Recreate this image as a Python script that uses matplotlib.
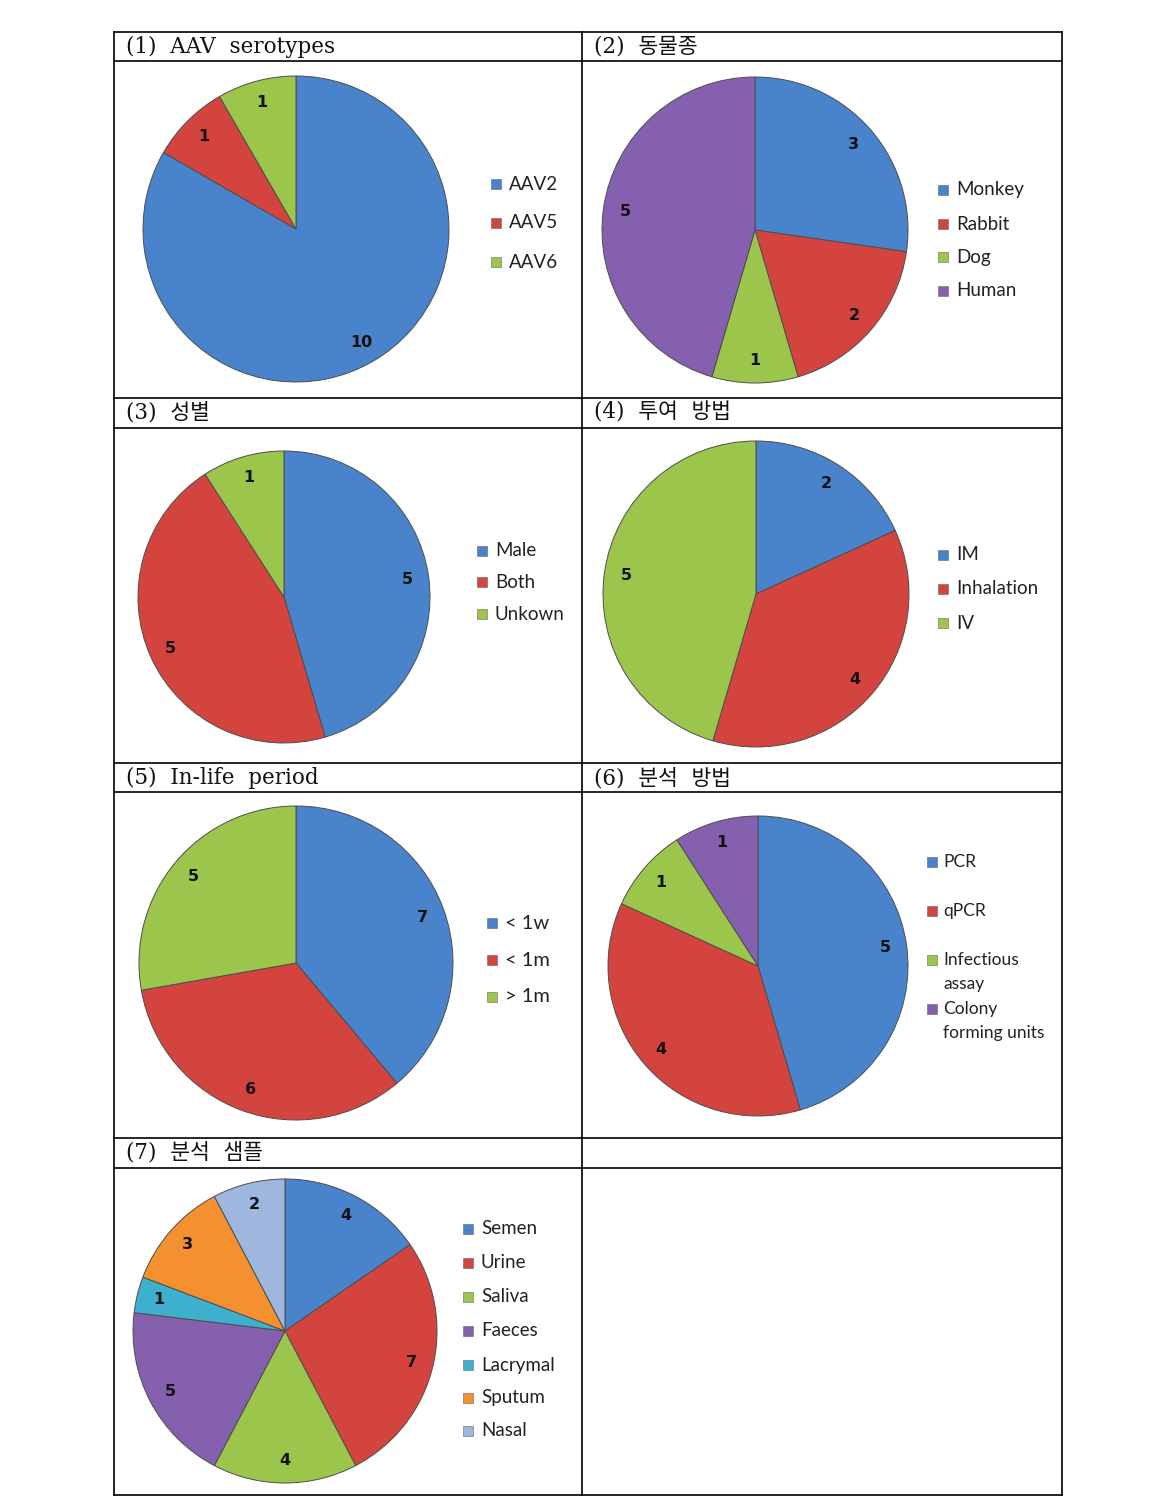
import matplotlib
matplotlib.use("Agg")
import matplotlib.pyplot as plt
from matplotlib.patches import Rectangle
from matplotlib.lines import Line2D

# ---------------- data ----------------
titles = ["(1) AAV serotypes", "(2) 동물종", "(3) 성별", "(4) 투여 방법",
          "(5) In-life period", "(6) 분석 방법", "(7) 분석 샘플"]

aav_labels = ["AAV2", "AAV5", "AAV6"]
aav_values = [10, 1, 1]

species_labels = ["Monkey", "Rabbit", "Dog", "Human"]
species_values = [3, 2, 1, 5]

sex_labels = ["Male", "Both", "Unkown"]
sex_values = [5, 5, 1]

route_labels = ["IM", "Inhalation", "IV"]
route_values = [2, 4, 5]

period_labels = ["< 1w", "< 1m", "> 1m"]
period_values = [7, 6, 5]

method_labels = ["PCR", "qPCR", "Infectious\nassay", "Colony\nforming units"]
method_values = [5, 4, 1, 1]

sample_labels = ["Semen", "Urine", "Saliva", "Faeces", "Lacrymal", "Sputum", "Nasal"]
sample_values = [4, 7, 4, 5, 1, 3, 2]

# ---------------- style ----------------
palette = ["#4883cc", "#d4443f", "#9cc64b", "#8560ae", "#3cb0cc", "#f4902f", "#9db7df"]

W, H = 1153, 1509
fig = plt.figure(figsize=(W / 100, H / 100), dpi=100)
fig.patch.set_facecolor("white")


def fx(x):
    return x / W


def fy(y):
    return 1 - y / H


# ---------------- table grid ----------------
line_kw = dict(color="black", linewidth=1.2, transform=fig.transFigure)
for y in [32, 61, 398, 428, 763, 792, 1138, 1168, 1495]:
    fig.add_artist(Line2D([fx(114), fx(1062)], [fy(y), fy(y)], **line_kw))
for x in [114, 582, 1062]:
    fig.add_artist(Line2D([fx(x), fx(x)], [fy(32), fy(1495)], **line_kw))

# header texts
header_pos = [(126, 47), (594, 47), (126, 413), (594, 413),
              (126, 778), (594, 778), (126, 1153)]
for t, (x, y) in zip(titles, header_pos):
    fig.text(fx(x), fy(y), t.replace(" ", "  "), ha="left", va="center", fontsize=15.5,
             family=["DejaVu Serif", "Noto Sans CJK KR"], color="#111111")

# ---------------- pies ----------------
panels = [
    dict(labels=aav_labels, values=aav_values, c=(296, 229), r=153,
         leg=dict(mx=491, tx=509, ys=[184, 223, 262], fs=13.5)),
    dict(labels=species_labels, values=species_values, c=(755, 230), r=153,
         leg=dict(mx=938, tx=956, ys=[190, 224, 257, 291], fs=13.5)),
    dict(labels=sex_labels, values=sex_values, c=(284, 597), r=146,
         leg=dict(mx=477, tx=495, ys=[551, 582, 614], fs=13.5)),
    dict(labels=route_labels, values=route_values, c=(756, 594), r=153,
         leg=dict(mx=938, tx=956, ys=[555, 589, 623], fs=13.5)),
    dict(labels=period_labels, values=period_values, c=(296, 963), r=157,
         leg=dict(mx=487, tx=505, ys=[923, 960, 997], fs=14.5)),
    dict(labels=method_labels, values=method_values, c=(758, 966), r=150,
         leg=dict(mx=927, tx=943, ys=[862, 911, 960, 1009], fs=12.5)),
    dict(labels=sample_labels, values=sample_values, c=(285, 1331), r=152,
         leg=dict(mx=463, tx=481, ys=[1229, 1263, 1297, 1331, 1365, 1398, 1431], fs=13.5)),
]

for p in panels:
    cx, cy = p["c"]
    r = p["r"]
    R = r * 1.06
    ax = fig.add_axes([fx(cx - R), fy(cy + R), 2 * R / W, 2 * R / H])
    vals = p["values"]
    tot = sum(vals)
    cols = palette[:len(vals)]
    wedges, _, autotexts = ax.pie(
        vals, colors=cols, startangle=90, counterclock=False, radius=1,
        autopct=lambda pct, tot=tot: f"{round(pct * tot / 100)}",
        pctdistance=0.855,
        wedgeprops=dict(edgecolor="#4d4d4d", linewidth=0.7),
        textprops=dict(fontsize=11.5, fontweight="bold", family="DejaVu Sans", color="#111111"),
    )
    ax.set_xlim(-1.06, 1.06)
    ax.set_ylim(-1.06, 1.06)
    ax.set_aspect("equal")
    ax.axis("off")

    lg = p["leg"]
    for lab, col, y in zip(p["labels"], cols, lg["ys"]):
        s = 10
        fig.add_artist(Rectangle((fx(lg["mx"]), fy(y + s / 2)), s / W, s / H,
                                 facecolor=col, edgecolor="#666666", linewidth=0.4,
                                 transform=fig.transFigure))
        for i, part in enumerate(lab.split("\n")):
            fig.text(fx(lg["tx"]), fy(y + i * 24), part, ha="left", va="center",
                     fontsize=lg["fs"], family="Lato", color="#222222")

fig.savefig("out.png", dpi=100, facecolor="white")
